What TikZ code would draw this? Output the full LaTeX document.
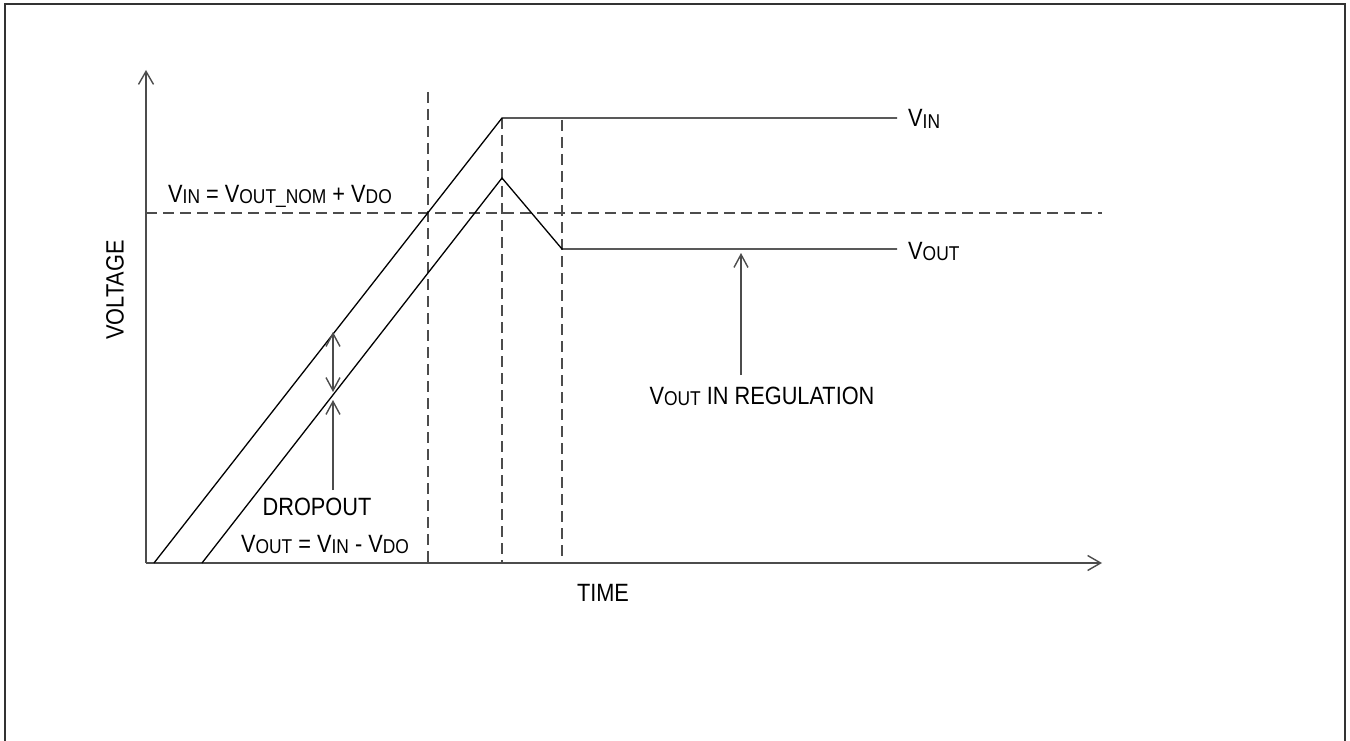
\documentclass[tikz,border=0pt]{standalone}
\usepackage{fontspec}
\setmainfont{Liberation Sans}[FakeStretch=0.87]
\usetikzlibrary{arrows.meta}
\newcommand\sbs[1]{\raisebox{-1.5pt}{\fontsize{20}{22}\selectfont #1}}
\tikzset{
  curve/.style={line width=1.3pt, black},
  axis/.style={line width=1.6pt, black!70, -{Straight Barb[length=13pt,width=15pt,line width=1.4pt]}},
  guide/.style={line width=1.5pt, black!70, dash pattern=on 11pt off 6pt},
  pointer/.style={line width=1.6pt, black!70, -{Straight Barb[length=13pt,width=14pt,line width=1.4pt]}},
  dpointer/.style={line width=1.6pt, black!70, {Straight Barb[length=13pt,width=14pt,line width=1.4pt]}-{Straight Barb[length=13pt,width=14pt,line width=1.4pt]}},
  lbl/.style={inner sep=0pt, font=\fontsize{25}{29}\selectfont}
}
\begin{document}
\begin{tikzpicture}[x=1pt,y=-1pt]
\useasboundingbox (0,0) rectangle (1350,741);
% frame
\draw[line width=2pt, black!80] (5,745) -- (5,4) -- (1345,4) -- (1345,745);
% coordinates
\coordinate (O) at (146,563);
\coordinate (Ytop) at (146,70);
\coordinate (Xend) at (1102,563);
\coordinate (A1) at (154,563);
\coordinate (A2) at (502,118);
\coordinate (A3) at (897,118);
\coordinate (B1) at (202,563);
\coordinate (B2) at (502,178);
\coordinate (B3) at (562,249);
\coordinate (B4) at (897,249);
\coordinate (D1t) at (428,92);
\coordinate (D1b) at (428,563);
\coordinate (D2b) at (502,563);
\coordinate (D3t) at (562,120);
\coordinate (D3b) at (562,563);
\coordinate (Hl) at (146,213);
\coordinate (Hr) at (1102,213);
\coordinate (P1) at (333,332);
\coordinate (P2) at (333,392);
\coordinate (Q1) at (333,490);
\coordinate (Q2) at (333,400);
\coordinate (R1) at (741,375);
\coordinate (R2) at (741,253);
% guides
\draw[guide] (D1t) -- (D1b);
\draw[guide] (A2) -- (D2b);
\draw[guide] (D3t) -- (D3b);
\draw[guide] (Hl) -- (Hr);
% axes
\draw[axis] (O) -- (Ytop);
\draw[axis] (O) -- (Xend);
% curves
\draw[curve] (A1) -- (A2) -- (A3);
\draw[curve] (B1) -- (B2) -- (B3) -- (B4);
% pointers
\draw[dpointer] (P1) -- (P2);
\draw[pointer] (Q1) -- (Q2);
\draw[pointer] (R1) -- (R2);
% labels
\node[lbl, anchor=base west] (vin) at (908,127) {V\sbs{IN}};
\node[lbl, anchor=base west] (vout) at (908,259) {V\sbs{OUT}};
\node[lbl, anchor=base west] (eqn) at (168,202) {V\sbs{IN} = V\sbs{OUT\_NOM} + V\sbs{DO}};
\node[lbl, anchor=base] (drop) at (317,515) {DROPOUT};
\node[lbl, anchor=base] (dropeq) at (325,552) {V\sbs{OUT} = V\sbs{IN} - V\sbs{DO}};
\node[lbl, anchor=base] (reg) at (762,404) {V\sbs{OUT} IN REGULATION};
\node[lbl, anchor=base] (time) at (603,601) {TIME};
\node[lbl, rotate=90] (volt) at (115,290) {VOLTAGE};
\end{tikzpicture}
\end{document}
